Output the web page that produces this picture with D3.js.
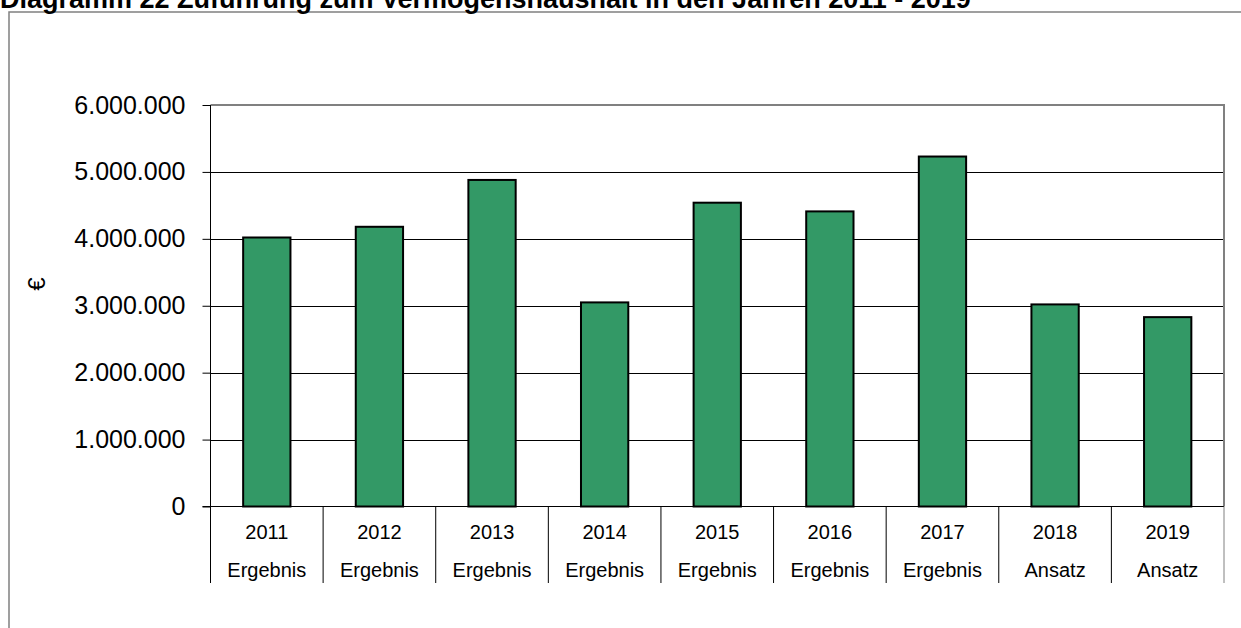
<!DOCTYPE html>
<html><head><meta charset="utf-8">
<script src="https://cdn.jsdelivr.net/npm/d3@7"></script>
<style>
html,body{margin:0;padding:0;background:#fff;overflow:hidden}
text{font-family:Arial,"Liberation Sans",sans-serif;fill:#000}
</style></head>
<body><svg id="c" width="1241" height="628"></svg>
<script>
const years = ["2011","2012","2013","2014","2015","2016","2017","2018","2019"];
const kinds = ["Ergebnis","Ergebnis","Ergebnis","Ergebnis","Ergebnis","Ergebnis","Ergebnis","Ansatz","Ansatz"];
const values = [4020000,4180000,4880000,3050000,4540000,4410000,5230000,3020000,2830000];
const yTicks = [0,1000000,2000000,3000000,4000000,5000000,6000000];
const titleText = "Diagramm 22 Zuführung zum Vermögenshaushalt in den Jahren 2011 - 2019";
const yTitle = "€";

const svg = d3.select("#c");
const de = d3.formatLocale({decimal:",",thousands:".",grouping:[3],currency:["","€"]});
const fmt = de.format(",d");

const L=210.5, R=1224, T=105, B=506.5, labBottom=583;

// outer frame
svg.append("rect").attr("x",9).attr("y",12).attr("width",1300).attr("height",700)
  .attr("fill","none").attr("stroke","#808080").attr("stroke-width",1.5);

// title (cut off at the top, as in the reference)
svg.append("text").attr("x",0).attr("y",8).attr("font-size",27).attr("font-weight","bold")
  .text(titleText);

const x = d3.scaleBand().domain(years).range([L,R]).paddingInner(0.58).paddingOuter(0.29);
const y = d3.scaleLinear().domain([0,6000000]).range([B,T]);

// gridlines
svg.append("g").selectAll("line").data(yTicks.filter(d=>d>0&&d<6000000)).join("line")
  .attr("x1",L).attr("x2",R).attr("y1",d=>Math.round(y(d))+0.5).attr("y2",d=>Math.round(y(d))+0.5)
  .attr("stroke","#000").attr("stroke-width",1);

// plot border top & right
svg.append("path").attr("d",`M${L},${y(6000000)}H${R}V${B}`).attr("fill","none")
  .attr("stroke","#808080").attr("stroke-width",2);

// bars
svg.append("g").selectAll("rect").data(values).join("rect")
  .attr("x",(d,i)=>x(years[i])).attr("width",x.bandwidth())
  .attr("y",d=>y(d)).attr("height",d=>B-y(d))
  .attr("fill","#339966").attr("stroke","#000").attr("stroke-width",2);

// y axis
const ya = d3.axisLeft(y).tickValues(yTicks).tickFormat(fmt).tickSize(8).tickPadding(17);
const gy = svg.append("g").attr("transform",`translate(${L},0)`).call(ya);
gy.select(".domain").remove();
gy.selectAll("line").attr("stroke","#000");
gy.selectAll("text").attr("font-size",25).attr("font-family","Arial, 'Liberation Sans', sans-serif").attr("fill","#000");

// left axis line
svg.append("line").attr("x1",L).attr("x2",L).attr("y1",T).attr("y2",labBottom).attr("stroke","#000");
// zero line
svg.append("line").attr("x1",L-8).attr("x2",R).attr("y1",B).attr("y2",B).attr("stroke","#000");

// category separators
const step = x.step();
svg.append("g").selectAll("line").data(d3.range(1,years.length+1)).join("line")
  .attr("x1",i=>L+i*step).attr("x2",i=>L+i*step).attr("y1",B).attr("y2",labBottom)
  .attr("stroke",(i)=> i===years.length? "#808080":"#000");

// category labels
const gx = svg.append("g");
gx.selectAll("text.yr").data(years).join("text").attr("class","yr")
  .attr("x",d=>x(d)+x.bandwidth()/2).attr("y",539).attr("text-anchor","middle")
  .attr("font-size",20).text(d=>d);
gx.selectAll("text.kd").data(kinds).join("text").attr("class","kd")
  .attr("x",(d,i)=>x(years[i])+x.bandwidth()/2).attr("y",577).attr("text-anchor","middle")
  .attr("font-size",20).text(d=>d);

// y title
svg.append("text").attr("transform","translate(45,284) rotate(-90)").attr("text-anchor","middle")
  .attr("font-size",24).text(yTitle);
</script></body></html>
